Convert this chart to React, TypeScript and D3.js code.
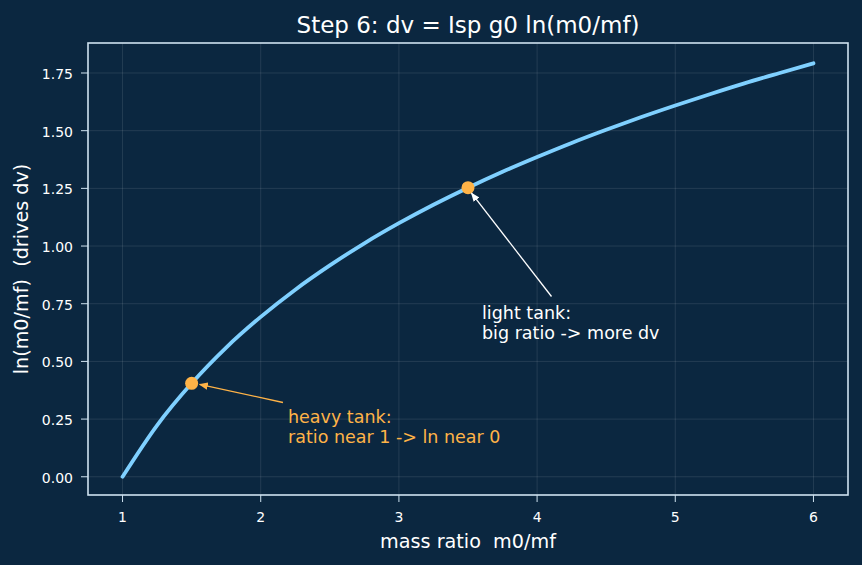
import React from 'react';
import * as d3 from 'd3';

// mass ratio samples and ln(m0/mf) at each
const massRatio = [1, 1.25, 1.5, 1.75, 2, 2.25, 2.5, 2.75, 3, 3.25, 3.5, 3.75, 4, 4.25, 4.5, 4.75, 5, 5.25, 5.5, 5.75, 6];
const lnRatio = [0, 0.223, 0.405, 0.56, 0.693, 0.811, 0.916, 1.012, 1.099, 1.179, 1.253, 1.322, 1.386, 1.447, 1.504, 1.558, 1.609, 1.658, 1.705, 1.749, 1.792];

// highlighted cases
const markRatio = [1.5, 3.5];
const markLn = [0.405, 1.253];

const xTicks = [1, 2, 3, 4, 5, 6];
const yTicks = [0, 0.25, 0.5, 0.75, 1.0, 1.25, 1.5, 1.75];

const W = 862;
const H = 565;
const margin = { top: 43, right: 14, bottom: 70, left: 88 };
const font = 'DejaVu Sans, sans-serif';

const BG = '#0b2740';
const SPINE = '#cfe3f0';
const TEXT = '#ffffff';
const LINE = '#7fd0ff';
const ORANGE = '#ffb347';

export default function App() {
  const x = d3.scaleLinear().domain([0.75, 6.25]).range([margin.left, W - margin.right]);
  const y = d3.scaleLinear().domain([-0.079, 1.88]).range([H - margin.bottom, margin.top]);

  const pts = massRatio.map((m, i) => [m, lnRatio[i]] as [number, number]);
  const line = d3.line<[number, number]>()
    .x(d => x(d[0]))
    .y(d => y(d[1]))
    .curve(d3.curveMonotoneX);

  const x0 = margin.left, x1 = W - margin.right;
  const y0 = H - margin.bottom, y1 = margin.top;

  const heavy = { x: x(markRatio[0]), y: y(markLn[0]) };
  const light = { x: x(markRatio[1]), y: y(markLn[1]) };

  return (
    <svg width={W} height={H} style={{ display: 'block', position: 'absolute', left: 0, top: 0 }} fontFamily={font}>
      <defs>
        <marker id="headOrange" viewBox="0 0 10 10" refX="9" refY="5" markerWidth="7" markerHeight="7" orient="auto">
          <path d="M0,1 L10,5 L0,9 Z" fill={ORANGE} />
        </marker>
        <marker id="headWhite" viewBox="0 0 10 10" refX="9" refY="5" markerWidth="7" markerHeight="7" orient="auto">
          <path d="M0,1 L10,5 L0,9 Z" fill={TEXT} />
        </marker>
      </defs>
      <rect width={W} height={H} fill={BG} />
      <text x={(x0 + x1) / 2} y={33} fill={TEXT} fontSize={23} textAnchor="middle">
        Step 6: dv = Isp g0 ln(m0/mf)
      </text>

      {/* grid */}
      {xTicks.map(t => (
        <line key={'gx' + t} x1={x(t)} x2={x(t)} y1={y1} y2={y0} stroke="#ffffff" strokeOpacity={0.13} strokeWidth={0.8} />
      ))}
      {yTicks.map(t => (
        <line key={'gy' + t} x1={x0} x2={x1} y1={y(t)} y2={y(t)} stroke="#ffffff" strokeOpacity={0.13} strokeWidth={0.8} />
      ))}

      <path d={line(pts) || ''} fill="none" stroke={LINE} strokeWidth={3.8} strokeLinecap="round" />

      {markRatio.map((m, i) => (
        <circle key={'m' + i} cx={x(m)} cy={y(markLn[i])} r={6.5} fill={ORANGE} />
      ))}

      {/* annotations */}
      <line x1={283} y1={402.5} x2={heavy.x + 8} y2={heavy.y + 1} stroke={ORANGE} strokeWidth={1.3} markerEnd="url(#headOrange)" />
      <text x={288} y={422.5} fill={ORANGE} fontSize={17.5}>heavy tank:</text>
      <text x={288} y={442.5} fill={ORANGE} fontSize={17.5}>ratio near 1 -&gt; ln near 0</text>

      <line x1={551.5} y1={296.5} x2={light.x + 3.5} y2={light.y + 5.5} stroke={TEXT} strokeWidth={1.3} markerEnd="url(#headWhite)" />
      <text x={482} y={318.5} fill={TEXT} fontSize={17.5}>light tank:</text>
      <text x={482} y={338.5} fill={TEXT} fontSize={17.5}>big ratio -&gt; more dv</text>

      {/* frame */}
      <rect x={x0} y={y1} width={x1 - x0} height={y0 - y1} fill="none" stroke={SPINE} strokeWidth={1.6} />

      {/* x axis */}
      {xTicks.map(t => (
        <g key={'xt' + t}>
          <line x1={x(t)} x2={x(t)} y1={y0} y2={y0 + 7} stroke={SPINE} strokeWidth={1} />
          <text x={x(t)} y={y0 + 27} fill={TEXT} fontSize={14} textAnchor="middle">{t}</text>
        </g>
      ))}
      <text x={(x0 + x1) / 2} y={548} fill={TEXT} fontSize={19.2} textAnchor="middle" style={{ whiteSpace: 'pre' }}>
        mass ratio  m0/mf
      </text>

      {/* y axis */}
      {yTicks.map(t => (
        <g key={'yt' + t}>
          <line x1={x0 - 7} x2={x0} y1={y(t)} y2={y(t)} stroke={SPINE} strokeWidth={1} />
          <text x={x0 - 15} y={y(t) + 6} fill={TEXT} fontSize={14} textAnchor="end">{t.toFixed(2)}</text>
        </g>
      ))}
      <text transform={`translate(28,${(y0 + y1) / 2}) rotate(-90)`} fill={TEXT} fontSize={19.2} textAnchor="middle" style={{ whiteSpace: 'pre' }}>
        ln(m0/mf)  (drives dv)
      </text>
    </svg>
  );
}
